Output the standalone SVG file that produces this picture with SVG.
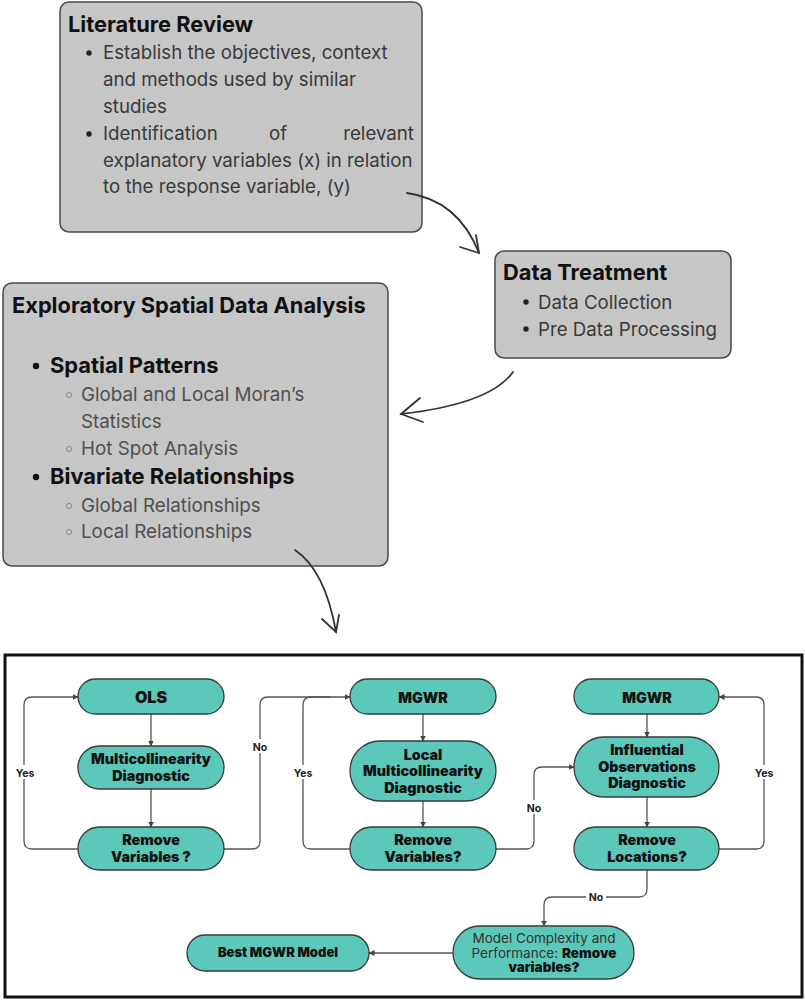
<svg xmlns="http://www.w3.org/2000/svg" width="805" height="1001" viewBox="0 0 805 1001">
<style>
.box{fill:#c6c6c6;stroke:#4a4a4a;stroke-width:1.5}
.ttl{font-family:Inter,"Liberation Sans",sans-serif;font-weight:700;font-size:21.8px;fill:#111}
.txt{font-family:Inter,"Liberation Sans",sans-serif;font-size:18.7px;fill:#3a3a3a}
.sub{font-family:Inter,"Liberation Sans",sans-serif;font-size:18.8px;fill:#505050}
.b2{font-family:Inter,"Liberation Sans",sans-serif;font-weight:700;font-size:21.9px;fill:#111}
.hand{fill:none;stroke:#333;stroke-width:1.8;stroke-linecap:round}
.node{fill:#5bc8ba;stroke:#3a3a3a;stroke-width:1.3}
.nt{font-family:Inter,"Liberation Sans",sans-serif;font-weight:900;font-size:14.3px;fill:#111;text-anchor:middle}
.nr{font-family:Inter,"Liberation Sans",sans-serif;font-size:13.5px;fill:#333;text-anchor:middle}
.con{fill:none;stroke:#555;stroke-width:1.3}
.lbl{font-family:Inter,"Liberation Sans",sans-serif;font-weight:700;font-size:10.5px;fill:#222;text-anchor:middle}
</style>
<defs>
<marker id="ah" markerWidth="6" markerHeight="6" refX="5.5" refY="3" orient="auto" markerUnits="userSpaceOnUse">
<path d="M0,0 L6,3 L0,6 Z" fill="#444"/>
</marker>
</defs>
<rect width="805" height="1001" fill="#fff"/>

<g id="literature-review">
<rect class="box" x="60" y="2" width="362" height="230" rx="9"/>
<text class="ttl" x="68" y="32">Literature Review</text>
<circle cx="89" cy="53" r="2.7" fill="#222"/>
<text class="txt" x="103" y="59">Establish the objectives, context</text>
<text class="txt" x="103" y="86">and methods used by similar</text>
<text class="txt" x="103" y="113">studies</text>
<circle cx="89" cy="134" r="2.7" fill="#222"/>
<text class="txt" x="103" y="140">Identification</text>
<text class="txt" x="278" y="140" text-anchor="middle">of</text>
<text class="txt" x="414" y="140" text-anchor="end">relevant</text>
<text class="txt" x="103" y="167">explanatory variables (x) in relation</text>
<text class="txt" x="103" y="193">to the response variable, (y)</text>
</g>

<g id="data-treatment">
<rect class="box" x="495" y="251" width="236" height="107" rx="9"/>
<text class="ttl" x="503" y="280">Data Treatment</text>
<circle cx="526" cy="302" r="2.7" fill="#222"/>
<text class="txt" x="538" y="309">Data Collection</text>
<circle cx="526" cy="329" r="2.7" fill="#222"/>
<text class="txt" x="538" y="336">Pre Data Processing</text>
</g>

<g id="esda">
<rect class="box" x="3" y="283" width="385" height="283" rx="9"/>
<text class="ttl" x="12" y="313">Exploratory Spatial Data Analysis</text>
<circle cx="36" cy="366" r="3.2" fill="#111"/>
<text class="b2" x="50" y="373">Spatial Patterns</text>
<circle cx="69" cy="395" r="2.6" fill="none" stroke="#888" stroke-width="1"/>
<text class="sub" x="81" y="401">Global and Local Moran’s</text>
<text class="sub" x="81" y="428">Statistics</text>
<circle cx="69" cy="449" r="2.6" fill="none" stroke="#888" stroke-width="1"/>
<text class="sub" x="81" y="455">Hot Spot Analysis</text>
<circle cx="36" cy="477" r="3.2" fill="#111"/>
<text class="b2" x="50" y="484">Bivariate Relationships</text>
<circle cx="69" cy="506" r="2.6" fill="none" stroke="#888" stroke-width="1"/>
<text class="sub" x="81" y="512">Global Relationships</text>
<circle cx="69" cy="532" r="2.6" fill="none" stroke="#888" stroke-width="1"/>
<text class="sub" x="81" y="538">Local Relationships</text>
</g>

<g id="hand-arrows">
<path class="hand" d="M407,193 Q458,200 479,253"/>
<path class="hand" d="M460,247 L479,253 L476,235"/>
<path class="hand" d="M513,372 Q490,404 401,414"/>
<path class="hand" d="M420,398 L401,414 L423,422"/>
<path class="hand" d="M295,550 Q325,570 336,632"/>
<path class="hand" d="M322,619 L336,632 L339,615"/>
</g>

<g id="frame">
<rect x="5" y="655" width="797" height="342" fill="none" stroke="#111" stroke-width="3"/>
</g>

<g id="connectors">
<path class="con" d="M78,849 H32 Q24,849 24,841 V705 Q24,697 32,697 H78" marker-end="url(#ah)"/>
<path class="con" d="M151,714 V746" marker-end="url(#ah)"/>
<path class="con" d="M151,789 V827" marker-end="url(#ah)"/>
<path class="con" d="M224,849 H252 Q260,849 260,841 V705 Q260,697 268,697 H350" marker-end="url(#ah)"/>
<path class="con" d="M350,849 H311 Q303,849 303,841 V705 Q303,697 311,697 H330"/>
<path class="con" d="M423,714 V741" marker-end="url(#ah)"/>
<path class="con" d="M423,801 V827" marker-end="url(#ah)"/>
<path class="con" d="M496,849 H526 Q534,849 534,841 V775 Q534,767 542,767 H574" marker-end="url(#ah)"/>
<path class="con" d="M647,714 V737" marker-end="url(#ah)"/>
<path class="con" d="M647,797 V827" marker-end="url(#ah)"/>
<path class="con" d="M719,849 H756 Q764,849 764,841 V705 Q764,697 756,697 H719" marker-end="url(#ah)"/>
<path class="con" d="M647,870 V889 Q647,897 639,897 H552 Q544,897 544,905 V926" marker-end="url(#ah)"/>
<path class="con" d="M453,953 H369" marker-end="url(#ah)"/>
<rect x="13" y="765" width="24" height="14" fill="#fff"/>
<text class="lbl" x="25" y="777">Yes</text>
<rect x="251" y="739" width="18" height="14" fill="#fff"/>
<text class="lbl" x="260" y="751">No</text>
<rect x="291" y="765" width="24" height="14" fill="#fff"/>
<text class="lbl" x="303" y="777">Yes</text>
<rect x="525" y="800" width="18" height="14" fill="#fff"/>
<text class="lbl" x="534" y="812">No</text>
<rect x="752" y="765" width="24" height="14" fill="#fff"/>
<text class="lbl" x="764" y="777">Yes</text>
<rect x="586" y="890" width="20" height="14" fill="#fff"/>
<text class="lbl" x="596" y="901">No</text>
</g>

<g id="ols">
<rect class="node" x="78" y="679" width="146" height="35" rx="17.5"/>
<text class="nt" x="151" y="703" style="font-size:16px">OLS</text>
</g>
<g id="multicollinearity">
<rect class="node" x="78" y="746" width="146" height="43" rx="21.5"/>
<text class="nt" x="151" y="764">Multicollinearity</text>
<text class="nt" x="151" y="781">Diagnostic</text>
</g>
<g id="remove-variables-1">
<rect class="node" x="78" y="827" width="146" height="43" rx="21.5"/>
<text class="nt" x="151" y="845">Remove</text>
<text class="nt" x="151" y="862">Variables ?</text>
</g>
<g id="mgwr-1">
<rect class="node" x="350" y="679" width="146" height="35" rx="17.5"/>
<text class="nt" x="423" y="703">MGWR</text>
</g>
<g id="local-multicollinearity">
<rect class="node" x="350" y="741" width="146" height="60" rx="30"/>
<text class="nt" x="423" y="760">Local</text>
<text class="nt" x="423" y="776">Multicollinearity</text>
<text class="nt" x="423" y="793">Diagnostic</text>
</g>
<g id="remove-variables-2">
<rect class="node" x="350" y="827" width="146" height="43" rx="21.5"/>
<text class="nt" x="423" y="845">Remove</text>
<text class="nt" x="423" y="862">Variables?</text>
</g>
<g id="mgwr-2">
<rect class="node" x="574" y="679" width="145" height="35" rx="17.5"/>
<text class="nt" x="647" y="703">MGWR</text>
</g>
<g id="influential">
<rect class="node" x="574" y="737" width="145" height="60" rx="30"/>
<text class="nt" x="647" y="755">Influential</text>
<text class="nt" x="647" y="772">Observations</text>
<text class="nt" x="647" y="788">Diagnostic</text>
</g>
<g id="remove-locations">
<rect class="node" x="574" y="827" width="145" height="43" rx="21.5"/>
<text class="nt" x="647" y="845">Remove</text>
<text class="nt" x="647" y="862">Locations?</text>
</g>
<g id="model-complexity">
<rect class="node" x="453" y="926" width="181" height="53" rx="26.5"/>
<text class="nr" x="544" y="943">Model Complexity and</text>
<text class="nr" x="544" y="958">Performance: <tspan style="font-weight:900;fill:#111">Remove</tspan></text>
<text class="nr" x="544" y="972" style="font-weight:900;fill:#111">variables?</text>
</g>
<g id="best-mgwr">
<rect class="node" x="187" y="935" width="182" height="36" rx="18"/>
<text class="nt" x="278" y="957" style="font-size:13px">Best MGWR Model</text>
</g>
</svg>
